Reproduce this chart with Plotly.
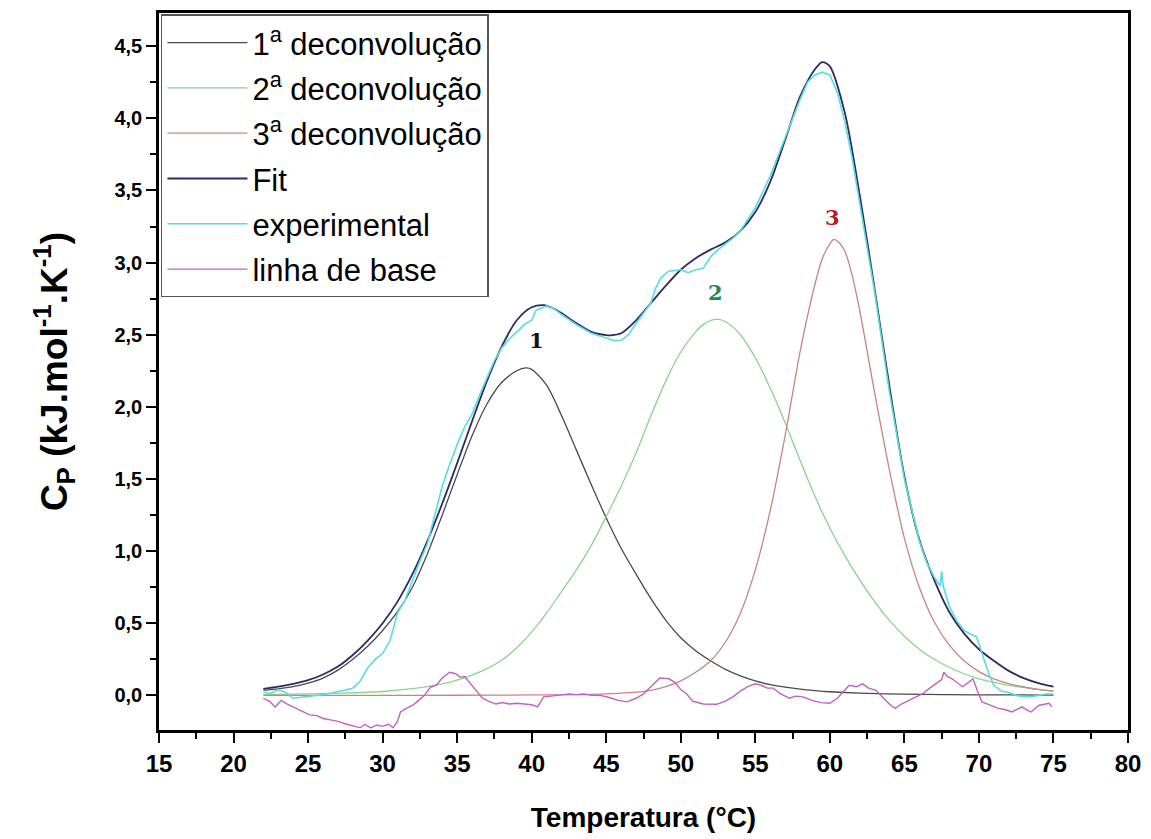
import plotly.graph_objects as go

# ---------------- data ----------------
x_d1 = [22, 23, 24, 25, 26, 27, 28, 29, 30, 31, 32, 33, 34, 35, 36, 37, 38, 39, 39.6, 40,
        41, 42, 43, 44, 45, 46, 47, 48, 49, 50, 51, 52, 53, 54, 55, 56, 57, 58, 59, 60,
        62, 65, 70, 75]
y_d1 = [0.035, 0.045, 0.06, 0.085, 0.12, 0.175, 0.25, 0.34, 0.45, 0.58, 0.75, 0.98, 1.25, 1.53,
        1.80, 2.02, 2.17, 2.25, 2.27, 2.26, 2.15, 1.94, 1.70, 1.46, 1.23, 1.02, 0.84, 0.67,
        0.52, 0.40, 0.31, 0.24, 0.18, 0.135, 0.1, 0.075, 0.057, 0.043, 0.033, 0.025, 0.015,
        0.008, 0.004, 0.002]

x_d2 = [22, 25, 28, 30, 32, 34, 35, 36, 37, 38, 39, 40, 41, 42, 43, 44, 45, 46, 47, 48, 49,
        50, 51, 51.5, 52.3, 53, 54, 55, 56, 57, 58, 59, 60, 61, 62, 63, 64, 65, 66, 67, 68,
        69, 70, 71, 72, 73, 74, 75]
y_d2 = [0.005, 0.01, 0.018, 0.027, 0.047, 0.08, 0.105, 0.14, 0.185, 0.245, 0.33, 0.44, 0.57,
        0.72, 0.87, 1.04, 1.24, 1.45, 1.68, 1.94, 2.18, 2.38, 2.52, 2.57, 2.607, 2.59, 2.5,
        2.34, 2.13, 1.89, 1.63, 1.38, 1.16, 0.97, 0.8, 0.65, 0.52, 0.41, 0.32, 0.25, 0.195,
        0.15, 0.115, 0.09, 0.07, 0.055, 0.04, 0.03]

x_d3 = [22, 30, 35, 40, 44, 46, 47, 48, 49, 50, 51, 52, 53, 54, 55, 56, 57, 58, 59, 59.5,
        60, 60.25, 60.5, 61, 61.5, 62, 63, 64, 65, 66, 67, 68, 69, 70, 71, 72, 73, 74, 75]
y_d3 = [0, 0, 0.001, 0.003, 0.007, 0.015, 0.022, 0.035, 0.06, 0.1, 0.16, 0.24, 0.37, 0.57,
        0.87, 1.28, 1.8, 2.38, 2.85, 3.03, 3.13, 3.16, 3.15, 3.08, 2.91, 2.67, 2.1, 1.56,
        1.09, 0.75, 0.51, 0.35, 0.24, 0.165, 0.115, 0.082, 0.058, 0.042, 0.03]

x_fit = [22, 23, 24, 25, 26, 27, 28, 29, 30, 31, 32, 33, 34, 35, 36, 37, 38, 39, 40, 40.8,
         41.5, 42, 43, 44, 45, 45.3, 46, 47, 48, 49, 50, 51, 52, 53, 54, 55, 56, 57, 58, 59,
         59.5, 60, 61, 62, 63, 64, 65, 66, 67, 68, 69, 70, 71, 72, 73, 74, 75]
y_fit = [0.045, 0.06, 0.08, 0.105, 0.145, 0.2, 0.28, 0.38, 0.5, 0.65, 0.84, 1.07, 1.33, 1.61,
         1.9, 2.18, 2.42, 2.6, 2.69, 2.705, 2.68, 2.65, 2.58, 2.52, 2.497, 2.496, 2.51, 2.6,
         2.72, 2.84, 2.95, 3.03, 3.09, 3.14, 3.22, 3.35, 3.56, 3.85, 4.15, 4.34, 4.39, 4.36,
         4.04, 3.47, 2.82, 2.14, 1.52, 1.08, 0.8, 0.58, 0.43, 0.32, 0.24, 0.17, 0.12, 0.085,
         0.06]

x_exp = [22, 22.5, 23, 23.5, 24, 24.5, 25, 25.5, 26, 26.5, 27, 27.5, 28, 28.5, 29, 29.5, 30,
         30.5, 31, 31.5, 32, 32.5, 33, 33.5, 34, 34.5, 35, 35.5, 36, 36.5, 37, 37.5, 38, 38.5,
         39, 39.5, 40, 40.3, 41, 41.5, 42, 43, 44, 45, 45.5, 46, 46.5, 47, 47.5, 48, 48.3,
         48.7, 49.2, 50, 50.5, 51, 51.5, 52, 52.5, 53, 53.5, 54, 55, 56, 57, 58, 58.5, 59,
         59.5, 60, 60.5, 61, 61.5, 62, 63, 64, 65, 66, 66.5, 67, 67.4, 67.5, 67.6, 68, 68.5,
         69, 69.5, 69.8, 70, 70.3, 70.7, 71, 71.5, 72, 72.5, 73, 73.5, 74, 74.5, 75]
y_exp = [0.02, 0.015, 0.04, 0.02, -0.02, -0.015, -0.01, -0.005, 0.005, 0.015, 0.025, 0.035,
         0.05, 0.1, 0.19, 0.25, 0.29, 0.38, 0.57, 0.66, 0.8, 0.93, 1.05, 1.25, 1.45, 1.6, 1.74,
         1.86, 1.95, 2.08, 2.2, 2.32, 2.41, 2.47, 2.52, 2.57, 2.6, 2.67, 2.7, 2.68, 2.64, 2.57,
         2.51, 2.48, 2.46, 2.46, 2.5, 2.58, 2.65, 2.72, 2.82, 2.9, 2.94, 2.95, 2.93, 2.95,
         2.96, 3.04, 3.09, 3.13, 3.17, 3.22, 3.38, 3.6, 3.87, 4.13, 4.25, 4.3, 4.32, 4.3,
         4.18, 3.98, 3.72, 3.42, 2.8, 2.1, 1.5, 1.07, 0.92, 0.82, 0.76, 0.86, 0.76, 0.62,
         0.52, 0.45, 0.42, 0.41, 0.36, 0.26, 0.14, 0.07, 0.03, 0.02, 0.0, -0.01, -0.01, 0.0,
         0.01, 0.01]

x_base = [22.0, 22.4, 22.8, 23.2, 23.6, 24.0, 24.5, 25.1, 25.6, 26.0, 26.5, 27.0, 27.6, 28.0,
          28.5, 28.8, 29.2, 29.6, 30.0, 30.4, 30.7, 31.0, 31.2, 31.6, 32.0, 32.3, 32.8, 33.2,
          33.6, 34.0, 34.5, 34.9, 35.2, 35.5, 35.9, 36.3, 36.7, 37.1, 37.6, 38.0, 38.5, 39.0,
          39.5, 40.0, 40.4, 40.8, 41.3, 41.8, 42.5, 43.0, 43.5, 44.0, 44.6, 45.2, 45.8, 46.4,
          47.0, 47.5, 48.0, 48.6, 49.2, 49.6, 50.0, 50.4, 50.8, 51.5, 52.4, 53.0, 53.5, 54.0,
          54.5, 55.0, 55.4, 55.8, 56.2, 56.7, 57.3, 57.7, 58.2, 58.8, 59.4, 60.0, 60.5, 61.0,
          61.3, 61.8, 62.2, 62.6, 63.1, 63.6, 64.1, 64.4, 64.8, 65.3, 65.8, 66.2, 66.7, 67.1,
          67.5, 67.65, 67.9, 68.2, 68.6, 68.9, 69.3, 69.6, 69.9, 70.2, 70.8, 71.3, 71.8, 72.2,
          72.6, 72.9, 73.2, 73.5, 74.0, 74.4, 74.7, 74.9]
y_base = [-0.02, -0.04, -0.08, -0.035, -0.06, -0.08, -0.11, -0.135, -0.14, -0.16, -0.17,
          -0.18, -0.2, -0.21, -0.225, -0.2, -0.225, -0.205, -0.215, -0.2, -0.225, -0.18,
          -0.115, -0.09, -0.07, -0.045, 0.0, 0.055, 0.07, 0.12, 0.16, 0.15, 0.125, 0.13, 0.08,
          0.03, -0.02, -0.04, -0.06, -0.05, -0.06, -0.055, -0.06, -0.065, -0.08, -0.01,
          -0.005, 0.0, 0.01, 0.005, 0.01, 0.0, 0.0, -0.015, -0.035, -0.045, -0.02, 0.01, 0.06,
          0.12, 0.115, 0.09, 0.04, 0.01, -0.04, -0.06, -0.062, -0.04, -0.01, 0.03, 0.06, 0.08,
          0.07, 0.05, 0.05, 0.01, -0.02, -0.005, -0.01, -0.035, -0.05, -0.055, -0.02, 0.04,
          0.07, 0.06, 0.08, 0.05, 0.035, -0.02, -0.07, -0.09, -0.06, -0.035, -0.01, 0.01,
          0.05, 0.08, 0.11, 0.16, 0.13, 0.115, 0.08, 0.06, 0.09, 0.115, 0.03, -0.045, -0.07,
          -0.09, -0.1, -0.115, -0.095, -0.08, -0.1, -0.115, -0.07, -0.06, -0.055, -0.08]

peak_labels = ["1", "2", "3"]
peak_label_x = [40.3, 52.35, 60.15]
peak_label_y = [2.46, 2.79, 3.31]
peak_label_colors = ["#111111", "#1f8a4c", "#c01818"]

series_names = ["1<sup>a</sup> deconvolução", "2<sup>a</sup> deconvolução",
                "3<sup>a</sup> deconvolução", "Fit", "experimental", "linha de base"]
series_colors = ["#4a4a4a", "#86d686", "#cc8282", "#2e2a66", "#55dce6", "#c25fc9"]

x_ticks = list(range(15, 81, 5))

# ---------------- figure ----------------
fig = go.Figure()
series = [(x_d1, y_d1, "spline", 1.3), (x_d2, y_d2, "spline", 1.3), (x_d3, y_d3, "spline", 1.3),
          (x_fit, y_fit, "spline", 1.8), (x_exp, y_exp, "linear", 1.6),
          (x_base, y_base, "linear", 1.4)]
for i, (xs, ys, shape, w) in enumerate(series):
    fig.add_trace(go.Scatter(
        x=xs, y=ys, mode="lines", name=series_names[i], legendgroup=f"g{i}",
        line=dict(color=series_colors[i], width=w, shape=shape, smoothing=0.8),
    ))

for t, xx, yy, c in zip(peak_labels, peak_label_x, peak_label_y, peak_label_colors):
    fig.add_annotation(x=xx, y=yy, text=f"<b>{t}</b>", showarrow=False,
                       font=dict(family="DejaVu Serif", size=21, color=c))

sans = "Liberation Sans, Arial"

fig.update_layout(
    width=1151, height=839,
    margin=dict(l=159, r=22, t=10, b=109),
    paper_bgcolor="white", plot_bgcolor="white",
    separators=", ",
    showlegend=True,
    legend=dict(
        x=0.002, y=0.998, xanchor="left", yanchor="top",
        bgcolor="white", bordercolor="#555555", borderwidth=1.5,
        font=dict(family=sans, size=31, color="black"),
        tracegroupgap=2, itemwidth=80,
    ),
    xaxis=dict(
        range=[15, 80], tickvals=x_ticks, ticks="outside", ticklen=10, tickwidth=2,
        tickcolor="black", showline=True, linewidth=2.5, linecolor="black", mirror=True,
        showgrid=False, zeroline=False,
        tickfont=dict(family=sans, size=24, color="black", weight="bold"),
        minor=dict(dtick=2.5, ticks="outside", ticklen=6, tickwidth=2, tickcolor="black"),
        title=dict(text="<b>Temperatura (°C)</b>", standoff=32,
                   font=dict(family=sans, size=28, color="black")),
    ),
    yaxis=dict(
        range=[-0.24, 4.73], dtick=0.5, tick0=0, tickformat=".1f", ticks="outside",
        ticklen=10, tickwidth=2, tickcolor="black", showline=True, linewidth=2.5,
        linecolor="black", mirror=True, showgrid=False, zeroline=False,
        tickfont=dict(family=sans, size=20, color="black", weight="bold"),
        minor=dict(dtick=0.25, ticks="outside", ticklen=6, tickwidth=2, tickcolor="black"),
        title=dict(text="<b>C<sub>P</sub> (kJ.mol<sup>-1</sup>.K<sup>-1</sup>)</b>",
                   standoff=36, font=dict(family=sans, size=37, color="black")),
    ),
)

fig.write_html("out.html")
